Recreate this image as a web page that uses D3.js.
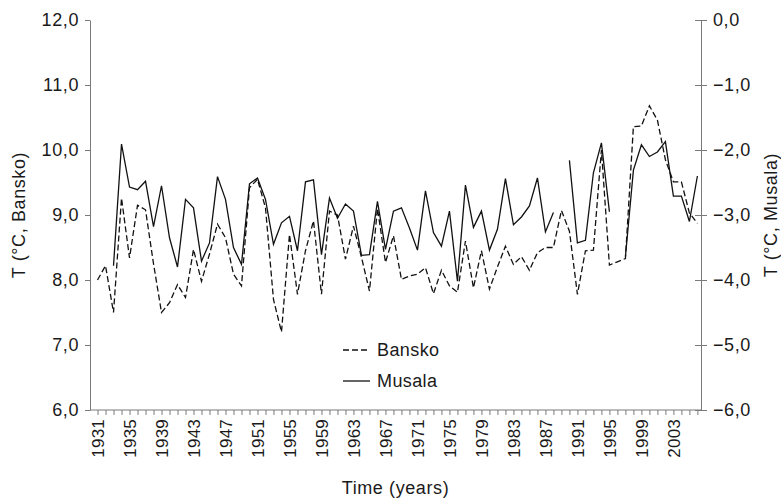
<!DOCTYPE html>
<html lang="en">
<head>
    <meta charset="UTF-8">
    <title>Bansko and Musala temperatures</title>
    <script src="https://d3js.org/d3.v7.min.js"></script>
    <style>
        body { margin: 0; background: #fff; }
        svg text { font-family: "Liberation Sans", Arial, sans-serif; fill: #1a1a1a; }
    </style>
</head>
<body>
    <svg id="chart" width="781" height="500"></svg>

    <script>
        // years 1931..2006 (categories on the x axis)
        const years = d3.range(1931, 2007);

        // mean annual temperature, Bansko (°C, left axis)
        const bansko = [
            8.00, 8.22, 7.50, 9.26, 8.34, 9.15, 9.08, 8.25, 7.50, 7.65,
            7.93, 7.73, 8.47, 7.98, 8.40, 8.86, 8.65, 8.09, 7.91, 9.42,
            9.55, 9.11, 7.70, 7.20, 8.70, 7.78, 8.45, 8.91, 7.78, 9.06,
            9.00, 8.32, 8.83, 8.35, 7.83, 9.10, 8.27, 8.68, 8.01, 8.06,
            8.09, 8.19, 7.79, 8.15, 7.91, 7.81, 8.60, 7.88, 8.45, 7.86,
            8.20, 8.52, 8.24, 8.36, 8.15, 8.42, 8.50, 8.50, 9.07, 8.75,
            7.78, 8.45, 8.46, 10.00, 8.23, 8.28, 8.33, 10.36, 10.37, 10.68,
            10.46, 9.85, 9.51, 9.51, 9.03, 8.87
        ];

        // mean annual temperature, Musala (°C, right axis), null = no data
        const musala = [
            null, null, -3.78, -1.91, -2.57, -2.61, -2.48, -3.18, -2.55, -3.35,
            -3.80, -2.76, -2.89, -3.71, -3.43, -2.41, -2.76, -3.50, -3.76, -2.52,
            -2.43, -2.76, -3.45, -3.12, -3.02, -3.55, -2.49, -2.46, -3.61, -2.74,
            -3.05, -2.83, -2.94, -3.62, -3.61, -2.79, -3.53, -2.94, -2.89, -3.20,
            -3.54, -2.63, -3.27, -3.48, -2.94, -4.02, -2.54, -3.19, -2.94, -3.54,
            -3.22, -2.44, -3.15, -3.03, -2.86, -2.43, -3.26, -2.96, null, -2.16,
            -3.43, -3.39, -2.35, -1.89, -2.95, null, -3.64, -2.31, -1.92, -2.10,
            -2.03, -1.87, -2.71, -2.71, -3.10, -2.40
        ];

        const leftTicks = [6, 7, 8, 9, 10, 11, 12];
        const rightTicks = [-6, -5, -4, -3, -2, -1, 0];
        const labelYears = [1931, 1935, 1939, 1943, 1947, 1951, 1955, 1959, 1963,
                            1967, 1971, 1975, 1979, 1983, 1987, 1991, 1995, 1999, 2003];

        const margin = {top: 20, right: 80, bottom: 90, left: 90};
        const width = 781, height = 500;

        const svg = d3.select("#chart");

        const x = d3.scaleLinear().domain([1930.06, 2006.45]).range([margin.left, width - margin.right]);
        const yL = d3.scaleLinear().domain([6, 12]).range([height - margin.bottom, margin.top]);
        const yR = d3.scaleLinear().domain([-6, 0]).range([height - margin.bottom, margin.top]);

        const fmt = v => d3.format(".1f")(v).replace(".", ",");

        // left axis
        const gL = svg.append("g")
            .attr("transform", `translate(${margin.left},0)`)
            .call(d3.axisLeft(yL).tickValues(leftTicks).tickFormat(fmt).tickSizeOuter(0).tickSizeInner(5).tickPadding(6));

        // right axis
        const gR = svg.append("g")
            .attr("transform", `translate(${width - margin.right},0)`)
            .call(d3.axisRight(yR).tickValues(rightTicks).tickFormat(fmt).tickSizeOuter(0).tickSizeInner(6).tickPadding(6));
        gR.selectAll(".tick line").attr("x1", -6);

        // bottom axis: a tick every year, label every 4 years
        const gX = svg.append("g")
            .attr("transform", `translate(0,${height - margin.bottom})`)
            .call(d3.axisBottom(x).tickValues(years).tickFormat(d => labelYears.includes(d) ? d : "")
                .tickSizeOuter(0).tickSizeInner(5).tickPadding(6));
        gX.selectAll(".tick text")
            .attr("transform", "rotate(-90)")
            .attr("text-anchor", "end")
            .attr("x", -9)
            .attr("y", 0)
            .attr("dy", "0.36em");

        [gL, gR, gX].forEach(g => {
            g.select(".domain").attr("stroke", "#7a7a7a").attr("stroke-width", 1);
            g.selectAll(".tick line").attr("stroke", "#7a7a7a");
            g.selectAll(".tick text").attr("fill", "#1a1a1a");
        });
        gX.selectAll(".tick text").style("font-size", "17px").style("letter-spacing", "0.2px");
        [gL, gR].forEach(g => g.selectAll(".tick text").style("font-size", "18px").style("letter-spacing", "0.6px"));
        // extend the bottom domain to the full plot width
        gX.select(".domain").attr("d", `M${margin.left},0H${width - margin.right}`);

        // axis titles
        const midY = (margin.top + height - margin.bottom) / 2;
        svg.append("text")
            .attr("transform", `translate(25,${midY}) rotate(-90)`)
            .attr("text-anchor", "middle")
            .style("font-size", "18px")
            .style("letter-spacing", "0.6px")
            .text("T (°C, Bansko)");

        svg.append("text")
            .attr("transform", `translate(777,${midY}) rotate(-90)`)
            .attr("text-anchor", "middle")
            .style("font-size", "18px")
            .style("letter-spacing", "0.6px")
            .text("T (°C, Musala)");

        svg.append("text")
            .attr("x", (margin.left + width - margin.right) / 2)
            .attr("y", 494)
            .attr("text-anchor", "middle")
            .style("font-size", "18px")
            .style("letter-spacing", "0.6px")
            .text("Time (years)");

        // series lines
        const lineB = d3.line()
            .x((d, i) => x(years[i]))
            .y(d => yL(d));

        const lineM = d3.line()
            .defined(d => d != null)
            .x((d, i) => x(years[i]))
            .y(d => yR(d));

        svg.append("path")
            .datum(musala)
            .attr("d", lineM)
            .attr("fill", "none")
            .attr("stroke", "#111")
            .attr("stroke-width", 1.3);

        svg.append("path")
            .datum(bansko)
            .attr("d", lineB)
            .attr("fill", "none")
            .attr("stroke", "#111")
            .attr("stroke-width", 1.3)
            .attr("stroke-dasharray", "6,3");

        // legend
        const legend = svg.append("g").attr("transform", "translate(343,350)");
        const items = [{name: "Bansko", dash: "6,3"}, {name: "Musala", dash: null}];
        items.forEach((it, i) => {
            const row = legend.append("g").attr("transform", `translate(0,${i * 31})`);
            row.append("line")
                .attr("x1", 0).attr("x2", 27)
                .attr("y1", 0).attr("y2", 0)
                .attr("stroke", "#111")
                .attr("stroke-width", 1.3)
                .attr("stroke-dasharray", it.dash);
            row.append("text")
                .attr("x", 34)
                .attr("dy", "0.36em")
                .style("font-size", "18px")
                .style("letter-spacing", "0.4px")
                .text(it.name);
        });
    </script>
</body>
</html>
